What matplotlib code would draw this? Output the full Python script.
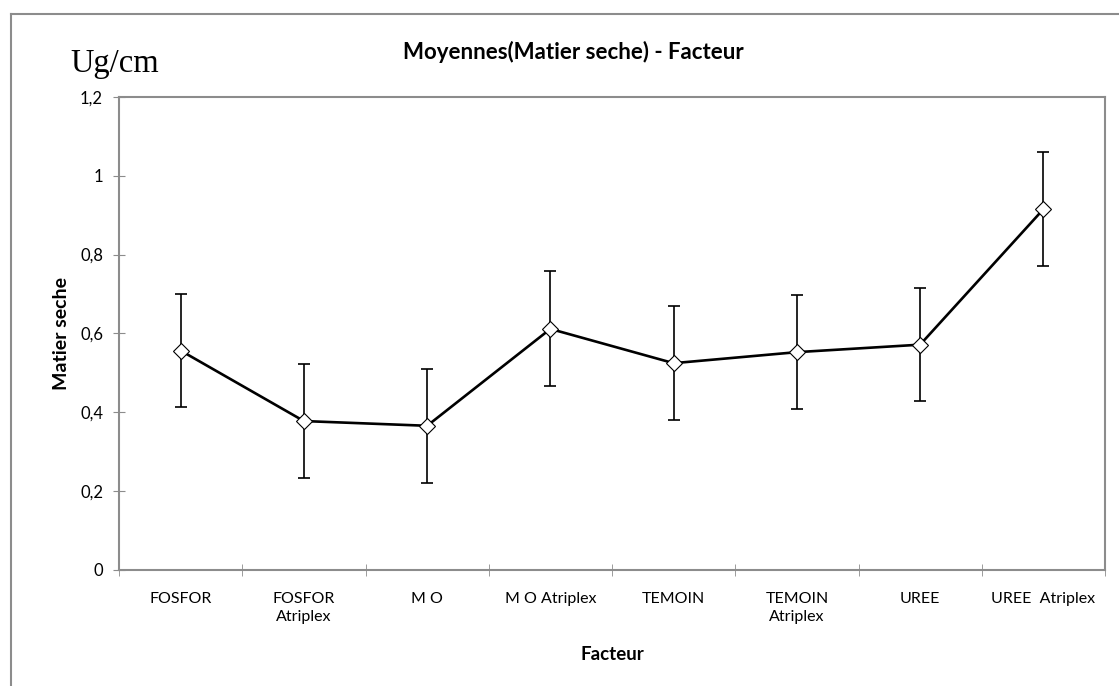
import matplotlib
matplotlib.use('Agg')
import matplotlib.pyplot as plt
import numpy as np

categories = ['FOSFOR', 'FOSFOR\nAtriplex', 'M O', 'M O Atriplex', 'TEMOIN',
              'TEMOIN\nAtriplex', 'UREE', 'UREE  Atriplex']
means = [0.556, 0.377, 0.365, 0.611, 0.524, 0.552, 0.571, 0.915]
errors = [0.144, 0.144, 0.145, 0.146, 0.145, 0.144, 0.144, 0.145]
yticks = [0, 0.2, 0.4, 0.6, 0.8, 1.0, 1.2]
ytick_labels = ['0', '0,2', '0,4', '0,6', '0,8', '1', '1,2']

plt.rcParams['font.family'] = ['Lato', 'DejaVu Sans']
grey = '#8c8c8c'

fig = plt.figure(figsize=(11.19, 6.86), dpi=100)
ax = fig.add_axes([119 / 1119, 1 - 569.5 / 686, (1105 - 119) / 1119, (569.5 - 97) / 686])

x = np.arange(len(categories))
ax.errorbar(x, means, yerr=errors, fmt='none', ecolor='black',
            elinewidth=1.2, capsize=4.3, capthick=1.2, zorder=2)
ax.plot(x, means, color='black', linewidth=1.9, marker='D', markersize=8.5,
        markerfacecolor='white', markeredgecolor='black', markeredgewidth=0.8,
        zorder=3)

ax.set_xlim(-0.5, len(categories) - 0.5)
ax.set_ylim(0, 1.2)
ax.set_yticks(yticks)
ax.set_yticklabels(ytick_labels, fontsize=12)
ax.set_xticks(x)
ax.set_xticklabels(categories, fontsize=11.5, linespacing=1.4)
ax.set_xticks(np.arange(len(categories) + 1) - 0.5, minor=True)
ax.tick_params(axis='x', which='major', length=0, pad=16)
ax.tick_params(axis='x', which='minor', direction='inout', length=9, color=grey)
ax.tick_params(axis='y', direction='inout', length=9, color=grey, pad=7)

for s in ax.spines.values():
    s.set_color(grey)
    s.set_linewidth(1.5)

ax.set_ylabel('Matier seche', fontsize=14, fontweight='bold', labelpad=7)
ax.set_xlabel('Facteur', fontsize=13.5, fontweight='bold', labelpad=16)

fig.text(573 / 1119, 1 - 52 / 686, 'Moyennes(Matier seche) - Facteur',
         ha='center', va='center', fontsize=16, fontweight='bold')
fig.text(70 / 1119, 1 - 72 / 686, 'Ug/cm', ha='left', va='baseline',
         fontsize=23.5, family=['Liberation Serif', 'DejaVu Serif'])

# outer chart frame (left and top edges visible)
fig.add_artist(plt.Line2D([11 / 1119, 11 / 1119], [0, 1 - 14 / 686],
                          transform=fig.transFigure, color=grey, linewidth=1.5))
fig.add_artist(plt.Line2D([11 / 1119, 1], [1 - 14 / 686, 1 - 14 / 686],
                          transform=fig.transFigure, color=grey, linewidth=1.5))

fig.savefig('out.png', dpi=100)
